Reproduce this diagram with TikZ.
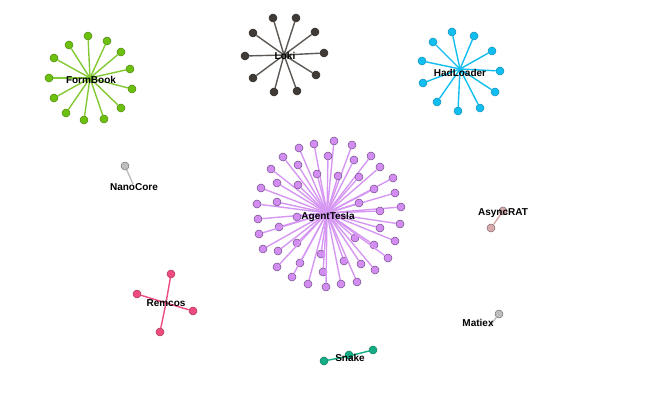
\documentclass[tikz,border=0pt]{standalone}
\usepackage{fontspec}
\setsansfont{Liberation Sans}
\usepackage{tikz}
\usetikzlibrary{shapes.geometric}
\definecolor{fbgreen}{HTML}{6CC010}
\definecolor{lokibrown}{HTML}{403B36}
\definecolor{hadblue}{HTML}{12BEF0}
\definecolor{atviolet}{HTML}{D28CF2}
\definecolor{remred}{HTML}{EE4C7E}
\definecolor{snkteal}{HTML}{14AE86}
\definecolor{asypink}{HTML}{D7ABAB}
\definecolor{nodegray}{HTML}{BEBEBE}
\tikzstyle{fb} = [circle, draw=fbgreen!70!black, fill=fbgreen, line width=0.5pt, inner sep=0pt, minimum size=8pt]
\tikzstyle{lk} = [circle, draw=lokibrown!70!black, fill=lokibrown, line width=0.5pt, inner sep=0pt, minimum size=8pt]
\tikzstyle{hl} = [circle, draw=hadblue!75!black, fill=hadblue, line width=0.5pt, inner sep=0pt, minimum size=8pt]
\tikzstyle{ag} = [circle, draw=atviolet!55!black, fill=atviolet, line width=0.5pt, inner sep=0pt, minimum size=8pt]
\tikzstyle{rc} = [circle, draw=remred!70!black, fill=remred, line width=0.5pt, inner sep=0pt, minimum size=8pt]
\tikzstyle{sn} = [circle, draw=snkteal!70!black, fill=snkteal, line width=0.5pt, inner sep=0pt, minimum size=8pt]
\tikzstyle{ar} = [circle, draw=asypink!60!black, fill=asypink, line width=0.5pt, inner sep=0pt, minimum size=8pt]
\tikzstyle{gr} = [circle, draw=nodegray!60!black, fill=nodegray, line width=0.5pt, inner sep=0pt, minimum size=8pt]
\tikzstyle{hub} = [circle, inner sep=0pt, minimum size=0pt]
\tikzstyle{tag} = [font=\sffamily\bfseries\fontsize{10}{12}\selectfont, inner sep=0pt, text=black]
\tikzstyle{ln} = [line width=1.4pt]

\begin{document}
\begin{tikzpicture}[x=1pt, y=-1pt]
    \useasboundingbox (0,0) rectangle (665,395);
    % FormBook
    \node (formbook) [hub] at (90,78) {};
    \foreach \x/\y [count=\i] in {88/36, 107/41, 69/45, 121/52, 54/58, 130/69, 49/78, 132/89, 54/98, 121/108, 66/113, 84/120, 104/119} {
        \node (fb\i) [fb] at (\x,\y) {};
        \draw[ln, fbgreen!85!white] (formbook) -- (fb\i);
    }
    % Loki
    \node (loki) [hub] at (284,55) {};
    \foreach \x/\y [count=\i] in {273/18, 296/18, 253/33, 315/32, 245/56, 324/53, 253/78, 316/75, 274/92, 297/91} {
        \node (lk\i) [lk] at (\x,\y) {};
        \draw[ln, lokibrown!85!white] (loki) -- (lk\i);
    }
    % HadLoader
    \node (hadloader) [hub] at (460,69) {};
    \foreach \x/\y [count=\i] in {452/32, 474/36, 433/42, 492/51, 422/61, 500/71, 423/83, 495/92, 437/102, 458/111, 480/108} {
        \node (hl\i) [hl] at (\x,\y) {};
        \draw[ln, hadblue] (hadloader) -- (hl\i);
    }
    % AgentTesla
    \node (agenttesla) [hub] at (327,213) {};
    \foreach \x/\y [count=\i] in {334/141, 314/144, 352/145, 299/148, 283/157, 328/156, 371/156, 354/160, 298/165, 271/169, 380/167, 317/174, 338/176, 359/177, 393/178, 277/183, 298/185, 261/188, 374/189, 395/193, 257/204, 277/202, 359/203, 401/207, 380/211, 258/219, 297/217, 400/224, 279/227, 380/228, 259/234, 355/238, 395/241, 297/243, 374/245, 263/249, 278/251, 321/254, 388/258, 300/263, 344/261, 361/264, 277/267, 375/270, 323/272, 292/277, 357/282, 308/284, 341/284, 326/287} {
        \node (ag\i) [ag] at (\x,\y) {};
        \draw[ln, atviolet!90!white] (agenttesla) -- (ag\i);
    }
    % NanoCore
    \node (nanocore) [hub] at (133,184) {};
    \node (nc1) [gr] at (125,166) {};
    \draw[ln, nodegray] (nanocore) -- (nc1);
    % Remcos
    \node (remcos) [hub] at (166,303) {};
    \node (rc1) [rc] at (171,274) {};
    \node (rc2) [rc] at (137,294) {};
    \node (rc3) [rc] at (193,311) {};
    \node (rc4) [rc] at (160,332) {};
    \draw[ln, remred] (remcos) -- (rc1);
    \draw[ln, remred] (remcos) -- (rc2);
    \draw[ln, remred] (remcos) -- (rc3);
    \draw[ln, remred] (remcos) -- (rc4);
    % Snake
    \node (snake) [hub] at (349,356) {};
    \node (sn1) [sn] at (324,361) {};
    \node (sn2) [sn] at (373,350) {};
    \node (sn3) [sn] at (349,355) {};
    \draw[ln, snkteal] (snake) -- (sn1);
    \draw[ln, snkteal] (snake) -- (sn2);
    % AsyncRAT
    \node (asyncrat) [hub] at (501,214) {};
    \node (ar1) [ar] at (491,228) {};
    \node (ar2) [ar] at (503,211) {};
    \draw[ln, asypink] (asyncrat) -- (ar1);
    \draw[ln, asypink] (asyncrat) -- (ar2);
    % Matiex
    \node (matiex) [hub] at (489,327) {};
    \node (mx1) [gr] at (499,314) {};
    \draw[ln, nodegray] (matiex) -- (mx1);
    % labels
    \node (fbtag) [tag] at (91,80) {FormBook};
    \node (lktag) [tag] at (285,56) {Loki};
    \node (hltag) [tag] at (460,73) {HadLoader};
    \node (agtag) [tag] at (328,217) {AgentTesla};
    \node (nctag) [tag] at (134,187) {NanoCore};
    \node (rctag) [tag] at (166,303) {Remcos};
    \node (sntag) [tag] at (350,358) {Snake};
    \node (artag) [tag] at (503,213) {AsyncRAT};
    \node (mxtag) [tag] at (478,323) {Matiex};
\end{tikzpicture}
\end{document}
